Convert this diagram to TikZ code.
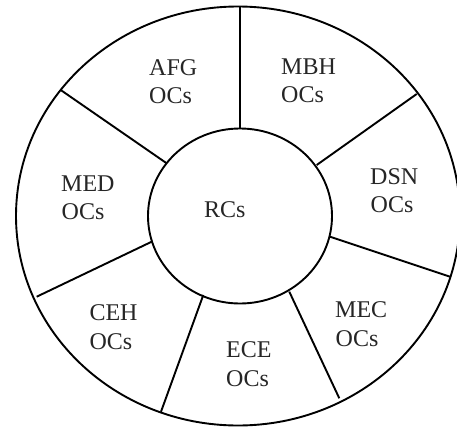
\documentclass[tikz,border=0pt]{standalone}
\usepackage{fontspec}
\setmainfont{Liberation Serif}
\usetikzlibrary{shapes.geometric}
\begin{document}
\begin{tikzpicture}[x=1pt,y=-1pt,
  ring/.style={draw=black, line width=1.9pt},
  spoke/.style={draw=black, line width=1.9pt},
  lbl/.style={font=\fontsize{24}{28.5}\selectfont, anchor=base west, inner sep=0pt, text=black!85}]
\useasboundingbox (0,0) rectangle (457,428);
\fill[white] (0,0) rectangle (457,428);
% rings
\node[ring, ellipse, minimum width=444pt, minimum height=419pt, inner sep=0pt] (outer) at (238,216) {};
\node[ring, ellipse, minimum width=184pt, minimum height=175pt, inner sep=0pt] (inner) at (240,216) {};
% spoke end points
\coordinate (o1) at (240,7);     \coordinate (i1) at (240,128.5);
\coordinate (o2) at (60.7,90);   \coordinate (i2) at (166.7,163.3);
\coordinate (o3) at (36.7,296.7);\coordinate (i3) at (151.7,241.7);
\coordinate (o4) at (161,411.7); \coordinate (i4) at (203.3,295);
\coordinate (o5) at (339.3,398.3);\coordinate (i5) at (289.3,291.7);
\coordinate (o6) at (450,276.7); \coordinate (i6) at (330,236.7);
\coordinate (o7) at (416.7,94);  \coordinate (i7) at (316.7,165);
\foreach \k in {1,...,7} { \draw[spoke] (i\k) -- (o\k); }
% labels
\node[lbl] (afg) at (149,75) {AFG};
\node[lbl] (afgo) at (149,103.3) {OCs};
\node[lbl] (mbh) at (281,74.5) {MBH};
\node[lbl] (mbho) at (281,102.5) {OCs};
\node[lbl] (dsn) at (370,184) {DSN};
\node[lbl] (dsno) at (370.5,212.5) {OCs};
\node[lbl] (med) at (61,191) {MED};
\node[lbl] (medo) at (61.5,219.5) {OCs};
\node[lbl] (rcs) at (204,217.5) {RCs};
\node[lbl] (ceh) at (89.3,320.5) {CEH};
\node[lbl] (ceho) at (89.3,349) {OCs};
\node[lbl] (mec) at (335,317.5) {MEC};
\node[lbl] (meco) at (335.5,346) {OCs};
\node[lbl] (ece) at (226,357.5) {ECE};
\node[lbl] (eceo) at (226,386) {OCs};
\end{tikzpicture}
\end{document}
